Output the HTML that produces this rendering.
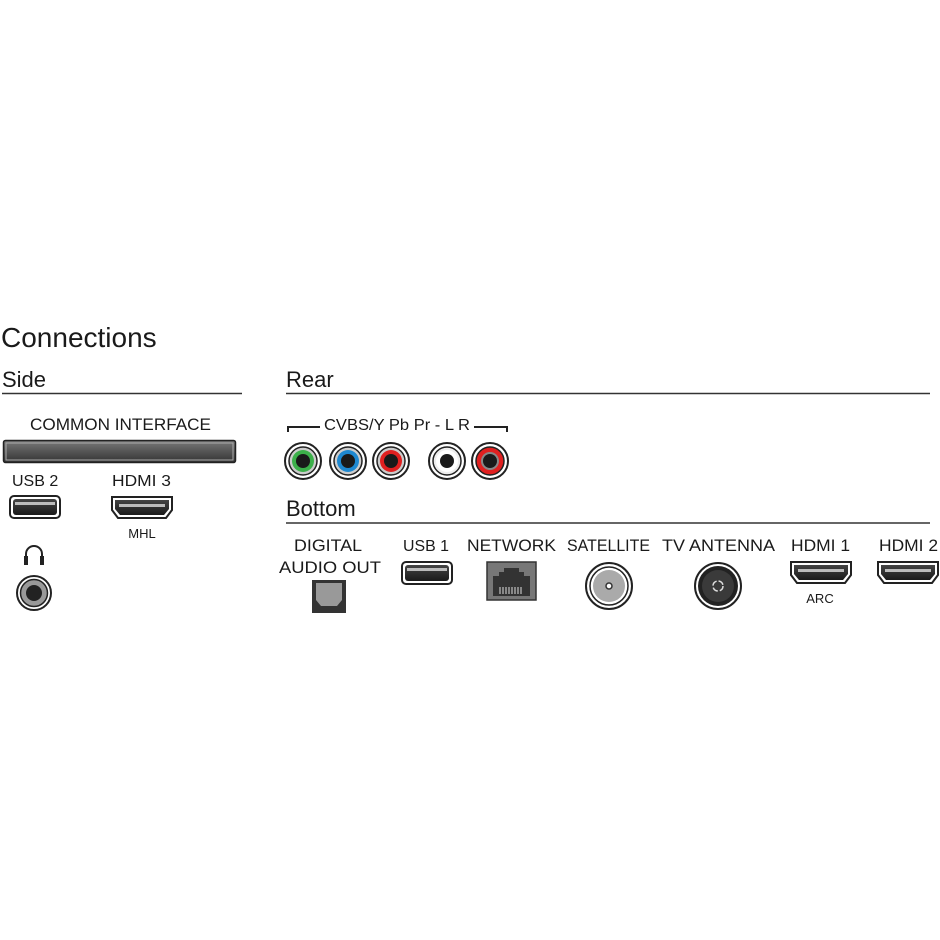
<!DOCTYPE html>
<html><head><meta charset="utf-8"><style>
html,body{margin:0;padding:0;background:#fff;width:940px;height:940px;overflow:hidden}
text{font-family:"Liberation Sans",sans-serif;fill:#1a1a1a}
</style></head><body>
<svg width="940" height="940" viewBox="0 0 940 940" xmlns="http://www.w3.org/2000/svg">
<defs>
<linearGradient id="slot" x1="0" y1="0" x2="0" y2="1"><stop offset="0" stop-color="#777"/><stop offset="1" stop-color="#333"/></linearGradient>
<linearGradient id="port" x1="0" y1="0" x2="0" y2="1"><stop offset="0" stop-color="#444"/><stop offset="1" stop-color="#1a1a1a"/></linearGradient>
</defs>
<text x="1" y="347" font-size="28" style="font-weight:300">Connections</text>
<text x="2" y="387" font-size="22">Side</text>
<line x1="2" y1="393.5" x2="242" y2="393.5" stroke="#333" stroke-width="1.5"/>
<text x="286" y="387" font-size="22">Rear</text>
<line x1="286" y1="393.5" x2="930" y2="393.5" stroke="#333" stroke-width="1.5"/>
<text x="286" y="516" font-size="22">Bottom</text>
<line x1="286" y1="523" x2="930" y2="523" stroke="#333" stroke-width="1.5"/>

<!-- Side -->
<text x="30" y="430" font-size="16.5" textLength="181" lengthAdjust="spacingAndGlyphs">COMMON INTERFACE</text>
<rect x="3.5" y="440.5" width="232" height="22" rx="2" fill="url(#slot)" stroke="#222" stroke-width="1.5"/>
<rect x="6" y="443" width="227" height="17" fill="none" stroke="#aaa" stroke-width="1"/>
<text x="12" y="486" font-size="16">USB 2</text>
<rect x="10" y="496" width="50" height="22" rx="4" fill="#fff" stroke="#222" stroke-width="2"/>
<rect x="13" y="499" width="44" height="16" rx="3" fill="url(#port)"/>
<rect x="15" y="502" width="40" height="3" fill="#bbb"/>
<text x="112" y="486" font-size="16" textLength="59" lengthAdjust="spacingAndGlyphs">HDMI 3</text>
<path d="M112,497 h60 v13 l-6,8 h-48 l-6,-8 z" fill="#fff" stroke="#222" stroke-width="2"/>
<path d="M115,500 h54 v9 l-5,6 h-44 l-5,-6 z" fill="url(#port)"/>
<rect x="119" y="504" width="46" height="3" fill="#bbb"/>
<text x="142" y="538" font-size="13" text-anchor="middle">MHL</text>
<path d="M26,562 v-8 a8,8 0 0 1 16,0 v8" fill="none" stroke="#222" stroke-width="2"/>
<rect x="24" y="556" width="4" height="9" fill="#222"/><rect x="40" y="556" width="4" height="9" fill="#222"/>
<circle cx="34" cy="593" r="17" fill="#fff" stroke="#222" stroke-width="2"/>
<circle cx="34" cy="593" r="13.5" fill="#999" stroke="#222" stroke-width="1.5"/>
<circle cx="34" cy="593" r="8" fill="#222"/>

<!-- Rear -->
<polyline points="288,432 288,427 320,427" fill="none" stroke="#222" stroke-width="2"/>
<text x="324" y="430" font-size="16" textLength="146" lengthAdjust="spacingAndGlyphs">CVBS/Y Pb Pr - L R</text>
<polyline points="474,427 507,427 507,432" fill="none" stroke="#222" stroke-width="2"/>
<g>
<circle cx="303" cy="461" r="18" fill="#fff" stroke="#222" stroke-width="2"/><circle cx="303" cy="461" r="14" fill="#ccc" stroke="#222" stroke-width="1.5"/><circle cx="303" cy="461" r="11" fill="#3cb04a"/><circle cx="303" cy="461" r="7" fill="#1a1a1a"/>
<circle cx="348" cy="461" r="18" fill="#fff" stroke="#222" stroke-width="2"/><circle cx="348" cy="461" r="14" fill="#ccc" stroke="#222" stroke-width="1.5"/><circle cx="348" cy="461" r="11" fill="#1e88d0"/><circle cx="348" cy="461" r="7" fill="#1a1a1a"/>
<circle cx="391" cy="461" r="18" fill="#fff" stroke="#222" stroke-width="2"/><circle cx="391" cy="461" r="14" fill="#ccc" stroke="#222" stroke-width="1.5"/><circle cx="391" cy="461" r="11" fill="#e02020"/><circle cx="391" cy="461" r="7" fill="#1a1a1a"/>
<circle cx="447" cy="461" r="18" fill="#fff" stroke="#222" stroke-width="2"/><circle cx="447" cy="461" r="14" fill="#eee" stroke="#222" stroke-width="1.5"/><circle cx="447" cy="461" r="11" fill="#fff"/><circle cx="447" cy="461" r="7" fill="#1a1a1a"/>
<circle cx="490" cy="461" r="18" fill="#fff" stroke="#222" stroke-width="2"/><circle cx="490" cy="461" r="14" fill="#e02020" stroke="#222" stroke-width="1.5"/><circle cx="490" cy="461" r="9" fill="#888"/><circle cx="490" cy="461" r="7" fill="#1a1a1a"/>
</g>

<!-- Bottom -->
<text x="294" y="551" font-size="16.5" textLength="68" lengthAdjust="spacingAndGlyphs">DIGITAL</text>
<text x="279" y="573" font-size="16.5" textLength="102" lengthAdjust="spacingAndGlyphs">AUDIO OUT</text>
<rect x="312" y="580" width="34" height="33" fill="#333"/>
<path d="M316,583 h26 v17 l-5,6 h-16 l-5,-6 z" fill="#999"/>
<text x="403" y="551" font-size="16" textLength="46" lengthAdjust="spacingAndGlyphs">USB 1</text>
<rect x="402" y="562" width="50" height="22" rx="4" fill="#fff" stroke="#222" stroke-width="2"/>
<rect x="405" y="565" width="44" height="16" rx="3" fill="url(#port)"/>
<rect x="407" y="568" width="40" height="3" fill="#bbb"/>
<text x="467" y="551" font-size="16.5" textLength="89" lengthAdjust="spacingAndGlyphs">NETWORK</text>
<rect x="487" y="562" width="49" height="38" fill="#777" stroke="#333" stroke-width="1.5"/>
<path d="M493,596 v-20 h6 v-4 h5 v-4 h15 v4 h5 v4 h6 v20 z" fill="#333"/>
<g stroke="#ddd" stroke-width="1"><line x1="500" y1="587" x2="500" y2="594"/><line x1="503" y1="587" x2="503" y2="594"/><line x1="506" y1="587" x2="506" y2="594"/><line x1="509" y1="587" x2="509" y2="594"/><line x1="512" y1="587" x2="512" y2="594"/><line x1="515" y1="587" x2="515" y2="594"/><line x1="518" y1="587" x2="518" y2="594"/><line x1="521" y1="587" x2="521" y2="594"/></g>
<text x="567" y="551" font-size="16.5" textLength="83" lengthAdjust="spacingAndGlyphs">SATELLITE</text>
<circle cx="609" cy="586" r="23" fill="#fff" stroke="#222" stroke-width="2"/>
<circle cx="609" cy="586" r="19" fill="#fff" stroke="#222" stroke-width="1.5"/>
<circle cx="609" cy="586" r="16" fill="#aaa"/>
<circle cx="609" cy="586" r="3" fill="#fff" stroke="#333" stroke-width="1.5"/>
<text x="662" y="551" font-size="16.5" textLength="113" lengthAdjust="spacingAndGlyphs">TV ANTENNA</text>
<circle cx="718" cy="586" r="23" fill="#fff" stroke="#222" stroke-width="2"/>
<circle cx="718" cy="586" r="20" fill="#222"/>
<circle cx="718" cy="586" r="16" fill="#3a3a3a"/>
<circle cx="718" cy="586" r="5" fill="none" stroke="#ddd" stroke-width="1.5" stroke-dasharray="6 2"/>
<text x="791" y="551" font-size="16.5" textLength="59" lengthAdjust="spacingAndGlyphs">HDMI 1</text>
<path d="M791,562 h60 v13 l-6,8 h-48 l-6,-8 z" fill="#fff" stroke="#222" stroke-width="2"/>
<path d="M794,565 h54 v9 l-5,6 h-44 l-5,-6 z" fill="url(#port)"/>
<rect x="798" y="569" width="46" height="3" fill="#bbb"/>
<text x="820" y="603" font-size="13" text-anchor="middle">ARC</text>
<text x="879" y="551" font-size="16.5" textLength="59" lengthAdjust="spacingAndGlyphs">HDMI 2</text>
<path d="M878,562 h60 v13 l-6,8 h-48 l-6,-8 z" fill="#fff" stroke="#222" stroke-width="2"/>
<path d="M881,565 h54 v9 l-5,6 h-44 l-5,-6 z" fill="url(#port)"/>
<rect x="885" y="569" width="46" height="3" fill="#bbb"/>
</svg>
</body></html>
